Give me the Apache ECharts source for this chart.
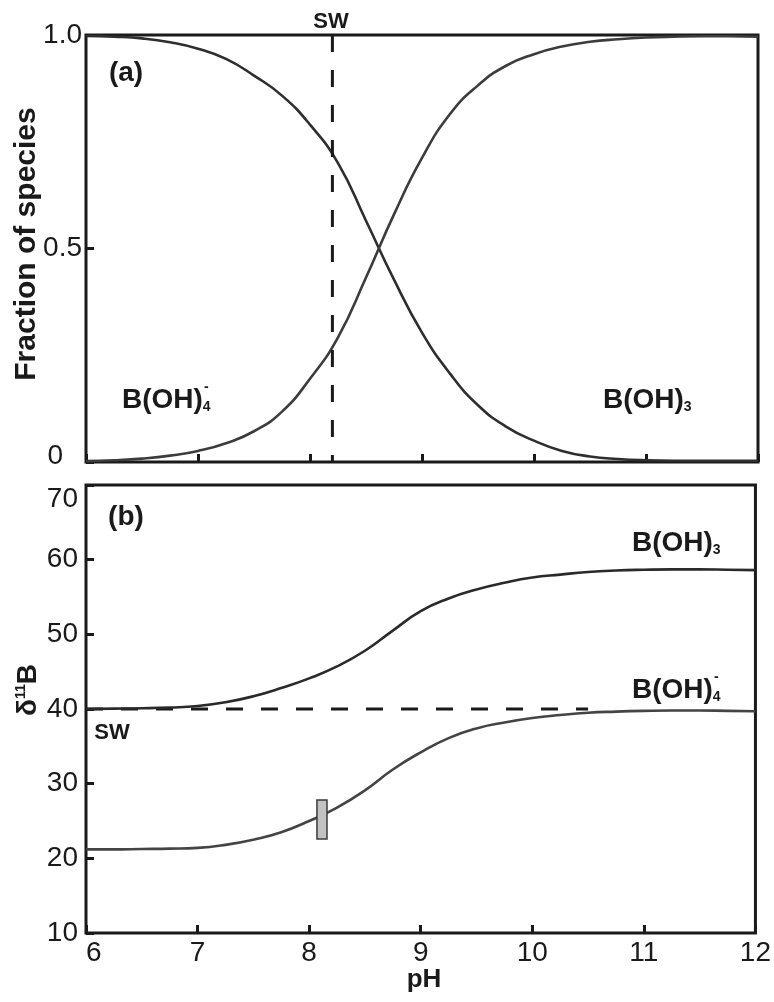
<!DOCTYPE html>
<html>
<head>
<meta charset="utf-8">
<script src="https://cdn.jsdelivr.net/npm/echarts@6/dist/echarts.min.js"></script>
<style>
  html, body { margin: 0; padding: 0; background: #fff; }
  #chart { width: 774px; height: 1002px; }
</style>
</head>
<body>
<div id="chart"></div>
<script>
// pH grid shared by all curves
const pH = [6, 6.25, 6.5, 6.75, 7, 7.25, 7.5, 7.75, 8, 8.25, 8.5, 8.75, 9,
  9.25, 9.5, 9.75, 10, 10.25, 10.5, 10.75, 11, 11.25, 11.5, 11.75, 12]

// (a) fraction of species
const fracFalling = [0.998, 0.996, 0.992, 0.983, 0.968, 0.944, 0.905, 0.858, 0.790, 0.700,
  0.565, 0.427, 0.303, 0.207, 0.133, 0.083, 0.050, 0.026, 0.013, 0.007, 0.004, 0.003,
  0.003, 0.003, 0.003]
const fracRising = [0.002, 0.004, 0.008, 0.015, 0.026, 0.044, 0.072, 0.118, 0.195, 0.292,
  0.432, 0.580, 0.712, 0.815, 0.882, 0.928, 0.955, 0.973, 0.984, 0.990, 0.994, 0.996,
  0.997, 0.997, 0.996]

// (b) d11B of the two species
const deltaBOH3 = [40.0, 40.05, 40.1, 40.2, 40.4, 40.9, 41.7, 42.8, 44.1, 45.7, 47.8, 50.5,
  53.1, 54.8, 56.0, 56.9, 57.6, 58.0, 58.35, 58.55, 58.65, 58.7, 58.7, 58.65, 58.6]
const deltaBOH4 = [21.2, 21.2, 21.25, 21.3, 21.4, 21.8, 22.5, 23.5, 25.0, 26.8, 29.1, 31.9,
  34.2, 36.1, 37.4, 38.2, 38.8, 39.2, 39.5, 39.65, 39.75, 39.8, 39.8, 39.75, 39.7]

// seawater reference values
const swPH = [8.2, 8.2]
const swFrac = [1, 0]
const swLinePH = [6, 10.5]
const swDelta = [40, 40]

// measured range box: pH from, d11B from, pH to, d11B to
const sampleBox = [8.07, 22.6, 8.16, 27.8]

// tick labels
const fracTicks = [0, 0.5, 1]
const fracTickText = ['0', '0.5', '1.0']

const ink = '#1a1a1a'
const font = "'Liberation Sans', Arial, sans-serif"

function pairs(xs, ys) {
  return xs.map((x, i) => [x, ys[i]])
}

const tick = { show: true, inside: true, length: 8, lineStyle: { color: ink, width: 3 } }
const label = { color: ink, fontSize: 28, fontFamily: font }

function chem(x, y, sub, sup) {
  const items = [{
    type: 'text', x: x, y: y,
    style: {
      text: '{m|B(OH)}{s|' + sub + '}',
      verticalAlign: 'middle',
      fill: ink,
      rich: {
        m: { fontSize: 28, fontWeight: 'bold', fontFamily: font, fill: ink },
        s: { fontSize: 14, fontWeight: 'bold', fontFamily: font, fill: ink, verticalAlign: 'bottom' }
      }
    }
  }]
  if (sup) {
    items.push({
      type: 'text', x: x + 82, y: y - 13,
      style: { text: sup, fontSize: 14, fontWeight: 'bold', fontFamily: font, fill: ink, verticalAlign: 'middle' }
    })
  }
  return items
}

function bold(text, x, y, size, extra) {
  return Object.assign({
    type: 'text', x: x, y: y,
    style: { text: text, fontSize: size, fontWeight: 'bold', fontFamily: font, fill: ink, align: 'center', verticalAlign: 'middle' }
  }, extra || {})
}

function curve(axis, ys, color) {
  return {
    type: 'line', xAxisIndex: axis, yAxisIndex: axis, data: pairs(pH, ys),
    showSymbol: false, smooth: 0.5,
    lineStyle: { color: color, width: 2.6 }
  }
}

const chart = echarts.init(document.getElementById('chart'))

chart.setOption({
  animation: false,
  grid: [
    { left: 86, right: 16, top: 35, height: 427, show: true, borderColor: ink, borderWidth: 3 },
    { left: 86, right: 16, top: 485, height: 448, show: true, borderColor: ink, borderWidth: 3 }
  ],
  xAxis: [
    {
      gridIndex: 0, type: 'value', min: 6, max: 12, interval: 1,
      axisLine: { show: false }, axisTick: tick, axisLabel: { show: false }, splitLine: { show: false }
    },
    {
      gridIndex: 1, type: 'value', min: 6, max: 12, interval: 1,
      axisLine: { show: false }, axisTick: tick, splitLine: { show: false },
      axisLabel: Object.assign({ margin: 6, alignMinLabel: 'left' }, label)
    }
  ],
  yAxis: [
    {
      gridIndex: 0, type: 'value', min: 0, max: 1, interval: 0.5,
      axisLine: { show: false }, axisTick: tick, splitLine: { show: false },
      axisLabel: Object.assign({
        margin: 4,
        formatter: v => {
          const t = fracTickText[fracTicks.indexOf(v)]
          return v === 0 ? '{z|' + t + '}' : t
        },
        rich: { z: { fontSize: 28, fontFamily: font, color: ink, padding: [0, 19, 12, 0] } }
      }, label)
    },
    {
      gridIndex: 1, type: 'value', min: 10, max: 70, interval: 10,
      axisLine: { show: false }, axisTick: tick, splitLine: { show: false },
      axisLabel: Object.assign({ margin: 8, verticalAlignMaxLabel: 'top' }, label)
    }
  ],
  series: [
    curve(0, fracFalling, '#2e2e2e'),
    curve(0, fracRising, '#3c3c3c'),
    {
      type: 'line', xAxisIndex: 0, yAxisIndex: 0, data: pairs(swPH, swFrac),
      showSymbol: false, lineStyle: { color: ink, width: 3, type: [17, 18] }
    },
    {
      type: 'line', xAxisIndex: 1, yAxisIndex: 1, data: pairs(swLinePH, swDelta),
      showSymbol: false, lineStyle: { color: ink, width: 3, type: [17, 18] }
    },
    curve(1, deltaBOH3, '#2a2a2a'),
    curve(1, deltaBOH4, '#444'),
    {
      type: 'custom', xAxisIndex: 1, yAxisIndex: 1, z: 5,
      data: [sampleBox],
      renderItem(params, api) {
        const a = api.coord([api.value(0), api.value(3)])
        const b = api.coord([api.value(2), api.value(1)])
        return {
          type: 'rect',
          shape: { x: a[0], y: a[1], width: b[0] - a[0], height: b[1] - a[1] },
          style: { fill: '#c2c2c2', stroke: '#3a3a3a', lineWidth: 1.5 }
        }
      }
    }
  ],
  graphic: [
    bold('SW', 331, 22, 22),
    bold('(a)', 126, 73, 28),
    bold('(b)', 126, 517, 28),
    bold('SW', 112, 733, 22),
    bold('pH', 424, 980, 26),
    bold('Fraction of species', 27, 244, 30, { rotation: Math.PI / 2 }),
    {
      type: 'text', x: 28, y: 690, rotation: Math.PI / 2,
      style: {
        text: '{b|δ}{s|11}{b|B}',
        align: 'center', verticalAlign: 'middle', fill: ink,
        rich: {
          b: { fontSize: 28, fontWeight: 'bold', fontFamily: font, fill: ink },
          s: { fontSize: 14, fontWeight: 'bold', fontFamily: font, fill: ink, verticalAlign: 'top' }
        }
      }
    },
    ...chem(122, 400, '4', '-'),
    ...chem(603, 400, '3'),
    ...chem(632, 543, '3'),
    ...chem(632, 690, '4', '-')
  ]
})
</script>
</body>
</html>
